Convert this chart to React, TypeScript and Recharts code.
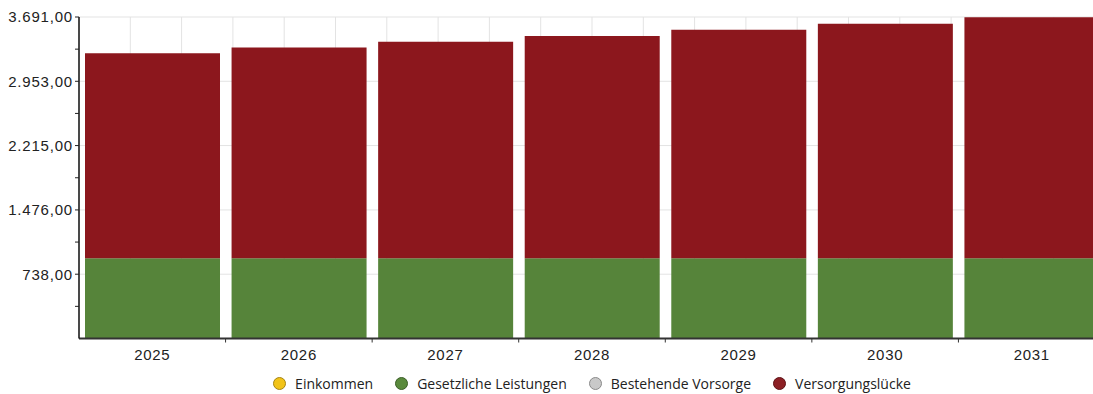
import React from 'react';
import { Bar, BarChart, CartesianGrid, Legend, XAxis, YAxis } from 'recharts';

const years = ['2025', '2026', '2027', '2028', '2029', '2030', '2031'];
const einkommen = [0, 0, 0, 0, 0, 0, 0];
const gesetzlicheLeistungen = [920, 920, 920, 920, 920, 920, 920];
const bestehendeVorsorge = [0, 0, 0, 0, 0, 0, 0];
const versorgungsluecke = [2354, 2420, 2486, 2554, 2624, 2694, 2767];

const yMax = 3691;
const majorTicks = [738, 1476, 2215, 2953, 3691];
const minorTicks = [369, 1107, 1845.5, 2584, 3322];

const legendItems = [
    { name: 'Einkommen', color: '#f2c318', border: '#a58414' },
    { name: 'Gesetzliche Leistungen', color: '#5a8a3c', border: '#3b5e27' },
    { name: 'Bestehende Vorsorge', color: '#c9c9c9', border: '#8a8a8a' },
    { name: 'Versorgungslücke', color: '#8c1f24', border: '#5e1216' },
];

const chartData = years.map((year, i) => ({
    year,
    einkommen: einkommen[i],
    gesetzlich: gesetzlicheLeistungen[i],
    bestehend: bestehendeVorsorge[i],
    luecke: versorgungsluecke[i],
}));

const fmt = (v: number) =>
    majorTicks.includes(v)
        ? v.toLocaleString('de-DE', { minimumFractionDigits: 2, maximumFractionDigits: 2 })
        : '';

const XTick = (props: any) => {
    const { x, y, payload, index, visibleTicksCount } = props;
    const half = payload.offset || 0;
    const last = index === visibleTicksCount - 1;
    return (
        <g>
            {!last && (
                <line x1={x + half} x2={x + half} y1={y - 8} y2={y - 4} stroke="#333" strokeWidth={1} />
            )}
            <text
                x={x}
                y={y + 13}
                textAnchor="middle"
                fill="#222"
                fontSize={15}
                letterSpacing={0.7}
                fontFamily="'Liberation Sans', Arial, sans-serif"
            >
                {payload.value}
            </text>
        </g>
    );
};

const renderLegend = () => (
    <div
        style={{
            display: 'flex',
            justifyContent: 'center',
            alignItems: 'center',
            height: 20,
            fontFamily: "'Open Sans', 'Noto Sans', sans-serif",
            fontSize: 14,
            color: '#222',
        }}
    >
        {legendItems.map((item) => (
            <div key={item.name} style={{ display: 'flex', alignItems: 'center', margin: '0 11px' }}>
                <span
                    style={{
                        display: 'inline-block',
                        width: 13,
                        height: 13,
                        borderRadius: '50%',
                        background: item.color,
                        border: `1px solid ${item.border}`,
                        boxSizing: 'border-box',
                        marginRight: 9,
                    }}
                />
                <span>{item.name}</span>
            </div>
        ))}
    </div>
);

const App = () => {
    return (
        <div style={{ position: 'absolute', left: 0, top: 0, width: 1093, height: 394, overflow: 'hidden', background: '#fff' }}>
            <BarChart
                width={1110}
                height={394}
                data={chartData}
                margin={{ top: 17, right: 5, bottom: 1, left: 0 }}
                barCategoryGap={6}
            >
                <CartesianGrid
                    stroke="#e3e3e3"
                    horizontalCoordinatesGenerator={({ offset }: any) =>
                        majorTicks.map((v) => offset.top + offset.height * (1 - v / yMax))
                    }
                    verticalCoordinatesGenerator={({ offset }: any) =>
                        Array.from({ length: 21 }, (_, k) => offset.left + (offset.width * k) / 20)
                    }
                />
                <XAxis
                    dataKey="year"
                    height={34.5}
                    tickLine={false}
                    axisLine={{ stroke: '#333', strokeWidth: 2 }}
                    tick={<XTick />}
                    interval={0}
                />
                <YAxis
                    width={79}
                    domain={[0, yMax]}
                    ticks={[...minorTicks, ...majorTicks].sort((a, b) => a - b)}
                    tickFormatter={fmt}
                    tickSize={4}
                    tickLine={{ stroke: '#222' }}
                    axisLine={{ stroke: '#111', strokeWidth: 1.5 }}
                    tick={{ fill: '#222', fontSize: 15, letterSpacing: 0.8, fontFamily: "'Liberation Sans', Arial, sans-serif" }}
                    interval={0}
                />
                <Legend
                    content={renderLegend}
                    verticalAlign="bottom"
                    wrapperStyle={{ left: 79, width: 1026, height: 20, bottom: 1 }}
                />
                <Bar dataKey="einkommen" stackId="a" fill="#f2c318" isAnimationActive={false} />
                <Bar dataKey="gesetzlich" stackId="a" fill="#56843a" isAnimationActive={false} />
                <Bar dataKey="bestehend" stackId="a" fill="#c9c9c9" isAnimationActive={false} />
                <Bar dataKey="luecke" stackId="a" fill="#8c171d" isAnimationActive={false} />
            </BarChart>
        </div>
    );
};

export default App;
